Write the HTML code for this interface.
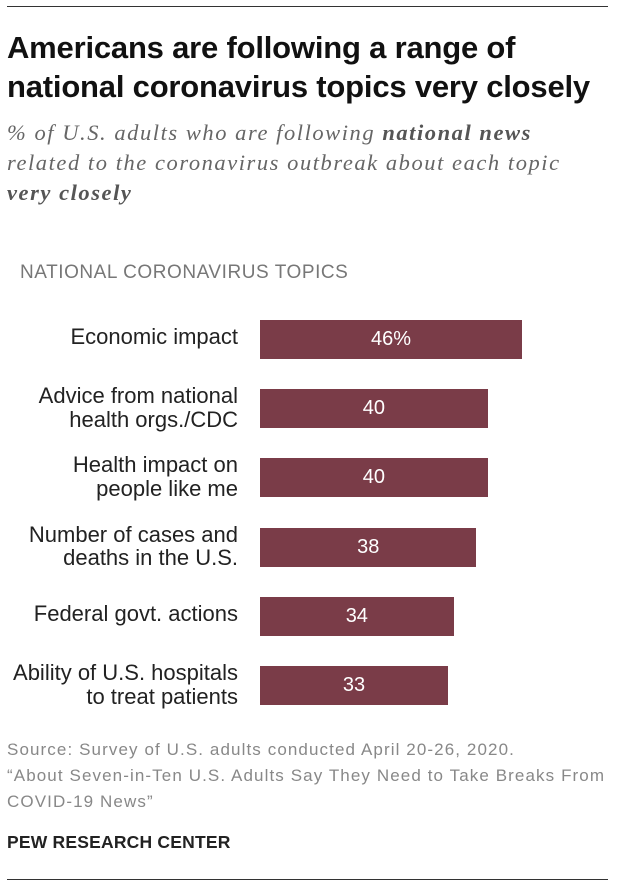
<!DOCTYPE html>
<html><head><meta charset="utf-8">
<style>
body{margin:0;background:#fff;width:620px;height:890px;position:relative;font-family:"Liberation Sans",sans-serif;overflow:hidden}
.abs{position:absolute}
.rule{left:7px;width:601px;height:1px;background:#333}
.title{left:7px;top:28px;font-size:31px;font-weight:bold;line-height:39px;color:#111;letter-spacing:-0.2px;white-space:nowrap}
.sub{left:7px;top:118px;font-family:"Liberation Serif",serif;font-style:italic;font-size:22.5px;line-height:30px;color:#666;letter-spacing:1.55px;white-space:nowrap}
.sub b{color:#555}
.hdr{left:20px;top:262px;font-size:19px;color:#777;letter-spacing:0.55px}
.lbl{right:382px;text-align:right;font-size:22px;line-height:23.5px;color:#222;white-space:nowrap}
.bar{background:#7a3c48}
.val{color:#fff;font-size:20px;text-align:center;line-height:39px}
.src{left:7px;top:737px;font-size:17px;line-height:26px;color:#888;letter-spacing:1.1px;white-space:nowrap}
.pew{left:7px;top:832px;font-size:17.5px;font-weight:bold;color:#222;letter-spacing:0.2px}
</style></head><body>
<div class="abs rule" style="top:6px"></div>
<div class="abs title">Americans are following a range of<br>national coronavirus topics very closely</div>
<div class="abs sub">% of U.S. adults who are following <b>national news</b><br>related to the coronavirus outbreak about each topic<br><b>very closely</b></div>
<div class="abs hdr">NATIONAL CORONAVIRUS TOPICS</div>
<div id="chart"></div>
<div class="abs src">Source: Survey of U.S. adults conducted April 20-26, 2020.<br>“About Seven-in-Ten U.S. Adults Say They Need to Take Breaks From<br>COVID-19 News”</div>
<div class="abs pew">PEW RESEARCH CENTER</div>
<div class="abs rule" style="top:879px"></div>
<script>
const categories=["Economic impact","Advice from national<br>health orgs./CDC","Health impact on<br>people like me","Number of cases and<br>deaths in the U.S.","Federal govt. actions","Ability of U.S. hospitals<br>to treat patients"];
const values=[46,40,40,38,34,33];
const valueLabels=["46%","40","40","38","34","33"];
const x0=260, scale=262/46, y0=320, step=69.2, bh=39;
const xw=v=>v*scale;
const c=document.getElementById('chart');
categories.forEach((cat,i)=>{
  const y=y0+i*step;
  const l=document.createElement('div');
  l.className='abs lbl';
  const two=cat.includes('<br>');
  l.style.top=(two? y-5 : y+5)+'px';
  l.innerHTML=cat;
  
  
  c.appendChild(l);
  const b=document.createElement('div');
  b.className='abs bar val';
  b.style.left=x0+'px';b.style.top=y+'px';b.style.height=bh+'px';b.style.width=xw(values[i])+'px';
  b.textContent=valueLabels[i];
  
  
  c.appendChild(b);
});
</script>
</body></html>
